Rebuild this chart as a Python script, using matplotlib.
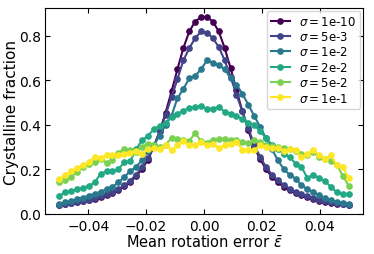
import numpy as np
import matplotlib
matplotlib.use('Agg')
from matplotlib import pyplot as plt

# rotation error grid (50 points between -0.05 and 0.05)
x = np.linspace(-0.05, 0.05, 50)

labels = ['1e-10', '5e-3', '1e-2', '2e-2', '5e-2', '1e-1']

s_1e10 = [0.038, 0.042, 0.046, 0.050, 0.055, 0.060, 0.066, 0.073, 0.082, 0.093,
          0.106, 0.122, 0.142, 0.168, 0.200, 0.243, 0.300, 0.370, 0.455, 0.550,
          0.650, 0.745, 0.820, 0.865, 0.885, 0.885, 0.865, 0.820, 0.745, 0.655,
          0.555, 0.460, 0.375, 0.300, 0.245, 0.200, 0.165, 0.140, 0.120, 0.105,
          0.092, 0.082, 0.073, 0.065, 0.058, 0.052, 0.048, 0.044, 0.041, 0.038]
s_5e3 = [0.040, 0.044, 0.048, 0.052, 0.057, 0.063, 0.069, 0.077, 0.086, 0.097,
         0.110, 0.127, 0.148, 0.175, 0.208, 0.252, 0.305, 0.370, 0.445, 0.525,
         0.605, 0.690, 0.745, 0.790, 0.820, 0.815, 0.790, 0.750, 0.690, 0.615,
         0.535, 0.460, 0.385, 0.310, 0.255, 0.210, 0.175, 0.150, 0.128, 0.112,
         0.098, 0.087, 0.078, 0.070, 0.063, 0.057, 0.052, 0.048, 0.044, 0.040]
s_1e2 = [0.042, 0.050, 0.057, 0.064, 0.072, 0.080, 0.090, 0.097, 0.110, 0.120,
         0.140, 0.165, 0.190, 0.210, 0.240, 0.280, 0.310, 0.350, 0.400, 0.440,
         0.520, 0.560, 0.610, 0.620, 0.650, 0.690, 0.680, 0.670, 0.650, 0.610,
         0.580, 0.540, 0.490, 0.440, 0.390, 0.340, 0.290, 0.240, 0.200, 0.175,
         0.157, 0.127, 0.110, 0.097, 0.082, 0.070, 0.060, 0.052, 0.048, 0.045]
s_2e2 = [0.080, 0.095, 0.100, 0.110, 0.115, 0.125, 0.140, 0.180, 0.190, 0.190,
         0.200, 0.230, 0.235, 0.290, 0.330, 0.350, 0.380, 0.395, 0.410, 0.435,
         0.450, 0.464, 0.475, 0.480, 0.484, 0.472, 0.472, 0.482, 0.457, 0.450,
         0.440, 0.425, 0.410, 0.400, 0.370, 0.340, 0.310, 0.290, 0.270, 0.255,
         0.225, 0.210, 0.160, 0.175, 0.160, 0.145, 0.120, 0.095, 0.090, 0.087]
s_5e2 = [0.140, 0.153, 0.165, 0.187, 0.210, 0.222, 0.232, 0.247, 0.228, 0.240,
         0.274, 0.292, 0.285, 0.277, 0.300, 0.315, 0.310, 0.300, 0.310, 0.341,
         0.337, 0.330, 0.325, 0.364, 0.325, 0.318, 0.333, 0.335, 0.335, 0.330,
         0.330, 0.322, 0.318, 0.330, 0.320, 0.307, 0.305, 0.300, 0.295, 0.290,
         0.280, 0.270, 0.265, 0.275, 0.255, 0.245, 0.235, 0.220, 0.170, 0.125]
s_1e1 = [0.155, 0.172, 0.190, 0.205, 0.217, 0.232, 0.255, 0.250, 0.262, 0.262,
         0.265, 0.270, 0.274, 0.280, 0.270, 0.289, 0.295, 0.292, 0.310, 0.285,
         0.307, 0.325, 0.310, 0.307, 0.322, 0.307, 0.315, 0.295, 0.307, 0.312,
         0.322, 0.288, 0.288, 0.285, 0.307, 0.300, 0.295, 0.297, 0.280, 0.290,
         0.285, 0.255, 0.270, 0.285, 0.262, 0.247, 0.262, 0.217, 0.210, 0.160]

series = [s_1e10, s_5e3, s_1e2, s_2e2, s_5e2, s_1e1]
colors = plt.cm.viridis(np.linspace(0, 1, len(series)))

fig = plt.figure(figsize=(3.74, 2.55), dpi=100)
ax = fig.add_axes([0.120, 0.155, 0.851, 0.811])

for y, lab, c in zip(series, labels, colors):
    ax.plot(x, y, '-o', color=c, markersize=3.8, linewidth=1.5,
            label=r'$\sigma = $' + lab)

ax.set_xlabel(r'Mean rotation error $\bar{\varepsilon}$', fontsize=10.5, labelpad=1)
ax.set_ylabel('Crystalline fraction', fontsize=11, labelpad=0)
ax.tick_params(direction='in', top=True, right=True, labelsize=10, pad=3)
ax.set_xticks([-0.04, -0.02, 0.0, 0.02, 0.04])
ax.set_yticks([0.0, 0.2, 0.4, 0.6, 0.8])
ax.legend(loc='upper right', fontsize=8.5, handlelength=1.6,
          borderpad=0.35, labelspacing=0.2, borderaxespad=0.25)

plt.savefig('out.png', dpi=100)
